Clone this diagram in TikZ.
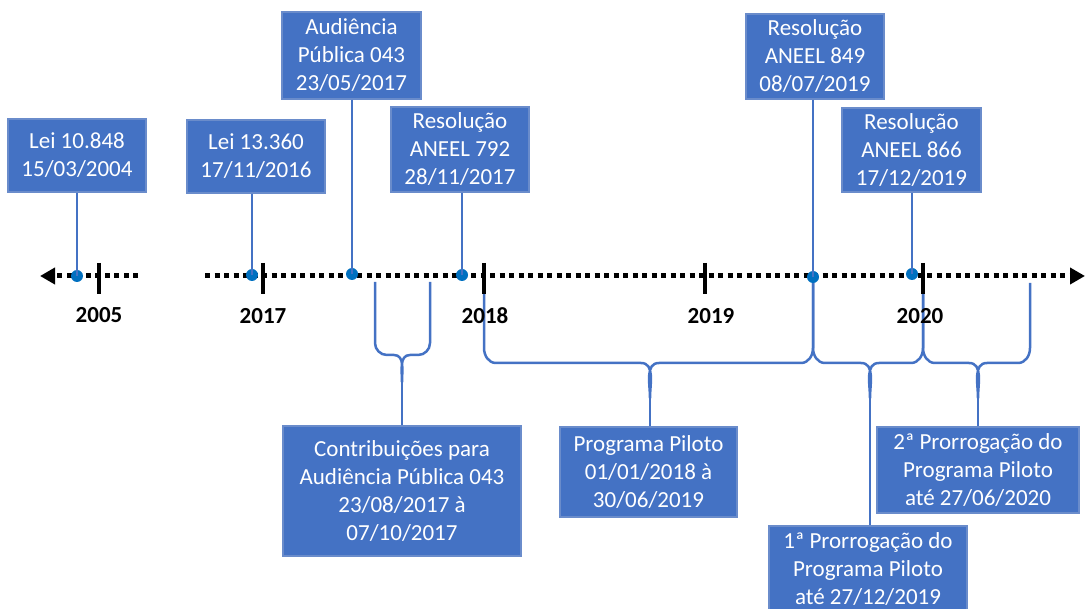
\documentclass[tikz,border=0pt]{standalone}
\usepackage{fontspec}
\setmainfont{Carlito}
\usepackage{tikz}
\usetikzlibrary{arrows.meta}
\definecolor{boxBlue}{HTML}{4472C4}
\definecolor{boxEdge}{HTML}{6A8CCB}
\definecolor{dotBlue}{HTML}{0070C0}
\tikzset{
     eventBox/.style =
        { rectangle
        , draw=boxEdge
        , line width=1.2pt
        , fill=boxBlue
        , text=white
        , align=center
        , inner sep=0pt
        , font=\fontsize{23}{28}\selectfont
        }
   , eventDot/.style =
        { circle
        , fill=dotBlue
        , inner sep=0pt
        , minimum size=12pt
        }
   , stemLine/.style = { draw=boxBlue, line width=2.8pt }
   , braceLine/.style = { draw=boxBlue, line width=2.5pt, line join=round }
   , axisLine/.style = { line width=5pt, dash pattern=on 5pt off 4.5pt }
   , yearTick/.style = { line width=4pt }
   , yearLabel/.style = { font=\fontsize{23}{28}\selectfont\bfseries }
}

\begin{document}
\begin{tikzpicture}
            [ x=1pt
            , y=-1pt
            , >={Triangle[length=15pt,width=16pt]}
            ]
            \useasboundingbox (0,0) rectangle (1085,609);

            % braces below the axis
            \coordinate (k1) at (402,382);
            \coordinate (k2) at (650,398);
            \coordinate (k3) at (870,398);
            \coordinate (k4) at (978,398);
            \draw[braceLine] (375,282) -- (375,343) to[out=-90,in=180] (387,355) -- (394,355)
                to[out=0,in=90] (k1) to[out=90,in=180] (410,355) -- (418,355)
                to[out=0,in=-90] (430,343) -- (430,282);
            \draw[braceLine] (484,286) -- (484,348) to[out=-90,in=180] (496,363) -- (641,363)
                to[out=0,in=90] (k2) to[out=90,in=180] (659,363) -- (801,363)
                to[out=0,in=-90] (813,348) -- (813,282);
            \draw[braceLine] (813,282) -- (813,348) to[out=-90,in=180] (825,363) -- (861,363)
                to[out=0,in=90] (k3) to[out=90,in=180] (879,363) -- (911,363)
                to[out=0,in=-90] (923,348) -- (923,286);
            \draw[braceLine] (923,286) -- (923,348) to[out=-90,in=180] (935,363) -- (969,363)
                to[out=0,in=90] (k4) to[out=90,in=180] (987,363) -- (1018,363)
                to[out=0,in=-90] (1030,348) -- (1030,283);

            % axis
            \coordinate (axL1) at (138,276);
            \coordinate (axL2) at (40,276);
            \coordinate (axR1) at (205,276);
            \coordinate (axR2) at (1085,276);
            \draw[axisLine,->] (axL1) -- (axL2);
            \draw[axisLine,->] (axR1) -- (axR2);

            \draw[yearTick] (99,263) -- (99,294);
            \draw[yearTick] (263,263) -- (263,294);
            \draw[yearTick] (484,263) -- (484,294);
            \draw[yearTick] (705,263) -- (705,294);
            \draw[yearTick] (923,263) -- (923,294);

            \node[yearLabel] (y2005) at (99,315) {2005};
            \node[yearLabel] (y2017) at (263,316) {2017};
            \node[yearLabel] (y2018) at (485,316) {2018};
            \node[yearLabel] (y2019) at (711,316) {2019};
            \node[yearLabel] (y2020) at (920,316) {2020};

            % events above the axis
            \node[eventBox, minimum width=138pt, minimum height=73pt] (lei1) at (77,155.5) {Lei 10.848\\15/03/2004};
            \node[eventBox, minimum width=138pt, minimum height=73pt] (lei2) at (256,156.5) {Lei 13.360\\17/11/2016};
            \node[eventBox, minimum width=139pt, minimum height=87pt] (aud) at (351.5,55.5) {Audiência\\Pública 043\\23/05/2017};
            \node[eventBox, minimum width=138pt, minimum height=85pt] (res1) at (460,149.5) {Resolução\\ANEEL 792\\28/11/2017};
            \node[eventBox, minimum width=138pt, minimum height=85pt] (res2) at (815,56.5) {Resolução\\ANEEL 849\\08/07/2019};
            \node[eventBox, minimum width=139pt, minimum height=84pt] (res3) at (911.5,150) {Resolução\\ANEEL 866\\17/12/2019};

            \node[eventDot] (d1) at (77,276) {};
            \node[eventDot] (d2) at (252,275) {};
            \node[eventDot] (d3) at (352,274) {};
            \node[eventDot] (d4) at (462,275) {};
            \node[eventDot] (d5) at (813,277) {};
            \node[eventDot] (d6) at (912,274) {};

            \draw[stemLine] (d1 |- lei1.south) -- (d1.center);
            \draw[stemLine] (d2 |- lei2.south) -- (d2.center);
            \draw[stemLine] (d3 |- aud.south) -- (d3.center);
            \draw[stemLine] (d4 |- res1.south) -- (d4.center);
            \draw[stemLine] (d5 |- res2.south) -- (d5.center);
            \draw[stemLine] (d6 |- res3.south) -- (d6.center);

            % periods below the axis
            \node[eventBox, minimum width=238pt, minimum height=130pt] (contrib) at (402,491) {Contribuições para\\Audiência Pública 043\\23/08/2017 à\\07/10/2017};
            \node[eventBox, minimum width=177pt, minimum height=90pt] (piloto) at (648.5,472) {Programa Piloto\\01/01/2018 à\\30/06/2019};
            \node[eventBox, minimum width=198pt, minimum height=86pt] (prorr1) at (868,569) {1ª Prorrogação do\\Programa Piloto\\até 27/12/2019};
            \node[eventBox, minimum width=202pt, minimum height=86pt] (prorr2) at (978,470) {2ª Prorrogação do\\Programa Piloto\\até 27/06/2020};

            \draw[braceLine] (k1) -- (k1 |- contrib.north);
            \draw[braceLine] (k2) -- (k2 |- piloto.north);
            \draw[braceLine] (k3) -- (k3 |- prorr1.north);
            \draw[braceLine] (k4) -- (k4 |- prorr2.north);
\end{tikzpicture}
\end{document}
